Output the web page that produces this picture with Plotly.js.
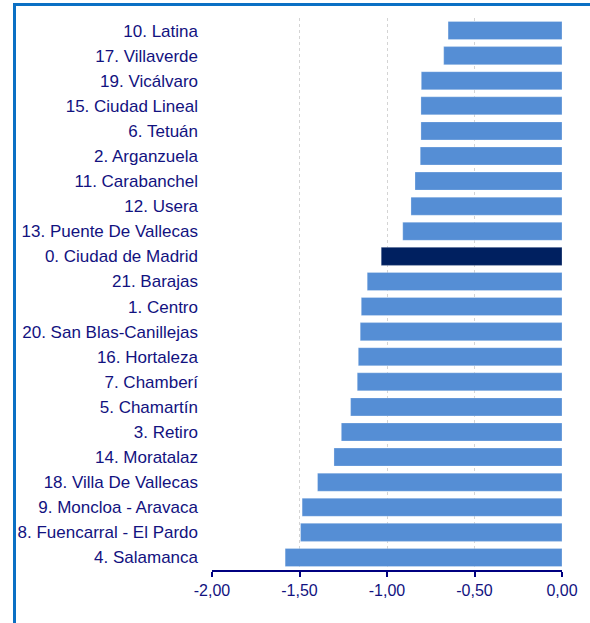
<!DOCTYPE html>
<html>
<head>
<meta charset="utf-8">
<script src="https://cdn.plot.ly/plotly-3.0.1.min.js"></script>
<style>
html,body{margin:0;padding:0;background:#fff;}
#wrap{position:relative;width:590px;height:623px;overflow:hidden;}
#chart{position:absolute;left:0;top:0;width:590px;height:623px;}
#frame{position:absolute;left:13px;top:3px;width:574px;height:640px;border-left:3px solid #0b70c4;border-top:3px solid #0b70c4;border-right:1px solid #e6e6e6;pointer-events:none;}
</style>
</head>
<body>
<div id="wrap"><div id="chart"></div><div id="frame"></div></div>
<script>
const districts = [
  "10. Latina", "17. Villaverde", "19. Vicálvaro", "15. Ciudad Lineal", "6. Tetuán",
  "2. Arganzuela", "11. Carabanchel", "12. Usera", "13. Puente De Vallecas",
  "0. Ciudad de Madrid", "21. Barajas", "1. Centro", "20. San Blas-Canillejas",
  "16. Hortaleza", "7. Chamberí", "5. Chamartín", "3. Retiro", "14. Moratalaz",
  "18. Villa De Vallecas", "9. Moncloa - Aravaca", "8. Fuencarral - El Pardo", "4. Salamanca"
];
const values = [
  -0.651, -0.676, -0.804, -0.806, -0.806,
  -0.810, -0.840, -0.863, -0.910,
  -1.033, -1.113, -1.147, -1.153,
  -1.164, -1.170, -1.208, -1.261, -1.303,
  -1.397, -1.485, -1.494, -1.582
];
const highlight = "0. Ciudad de Madrid";
const xTickVals = [-2, -1.5, -1, -0.5, 0];
const xTickText = ["-2,00", "-1,50", "-1,00", "-0,50", "0,00"];

const barColor = "#558ed5";
const highColor = "#002060";
const navy = "#12127f";

const colors = districts.map(d => d === highlight ? highColor : barColor);
const boundaries = districts.map((d, i) => i - 0.5).concat([districts.length - 0.5]);

const traces = [{
  type: "bar",
  orientation: "h",
  y: districts,
  x: values,
  marker: {color: colors, line: {color: "rgba(255,255,255,0.5)", width: 0.5}},
  hoverinfo: "x+y",
  xaxis: "x",
  yaxis: "y"
}];

const layout = {
  width: 590,
  height: 623,
  margin: {l: 212, r: 28, t: 18, b: 53},
  paper_bgcolor: "#ffffff",
  plot_bgcolor: "#ffffff",
  showlegend: false,
  bargap: 0.28,
  font: {family: "Liberation Sans, Arial, sans-serif", color: navy, size: 16},
  xaxis: {
    range: [-2, 0],
    tickvals: xTickVals,
    ticktext: xTickText,
    showgrid: true,
    gridcolor: "#d4d4d4",
    griddash: "dot",
    gridwidth: 1,
    zeroline: false,
    showline: true,
    linecolor: "#000080",
    linewidth: 2,
    ticks: "outside",
    ticklen: 5,
    tickwidth: 2,
    tickcolor: "#000080",
    tickfont: {size: 16, color: navy},
    fixedrange: true
  },
  yaxis: {
    type: "category",
    autorange: "reversed",
    showgrid: false,
    zeroline: false,
    showline: false,
    ticks: "",
    ticklabelstandoff: 13,
    tickfont: {size: 17, color: navy},
    fixedrange: true
  },
  yaxis2: {
    overlaying: "y",
    side: "right",
    anchor: "x",
    type: "linear",
    range: [districts.length - 0.5, -0.5],
    showgrid: false,
    zeroline: false,
    showline: true,
    linecolor: "#000080",
    linewidth: 2,
    ticks: "inside",
    ticklen: 5,
    tickwidth: 2,
    tickcolor: "#000080",
    tickmode: "array",
    tickvals: boundaries,
    showticklabels: false,
    fixedrange: true
  }
};

Plotly.newPlot("chart", traces, layout, {displayModeBar: false, staticPlot: true});
</script>
</body>
</html>
